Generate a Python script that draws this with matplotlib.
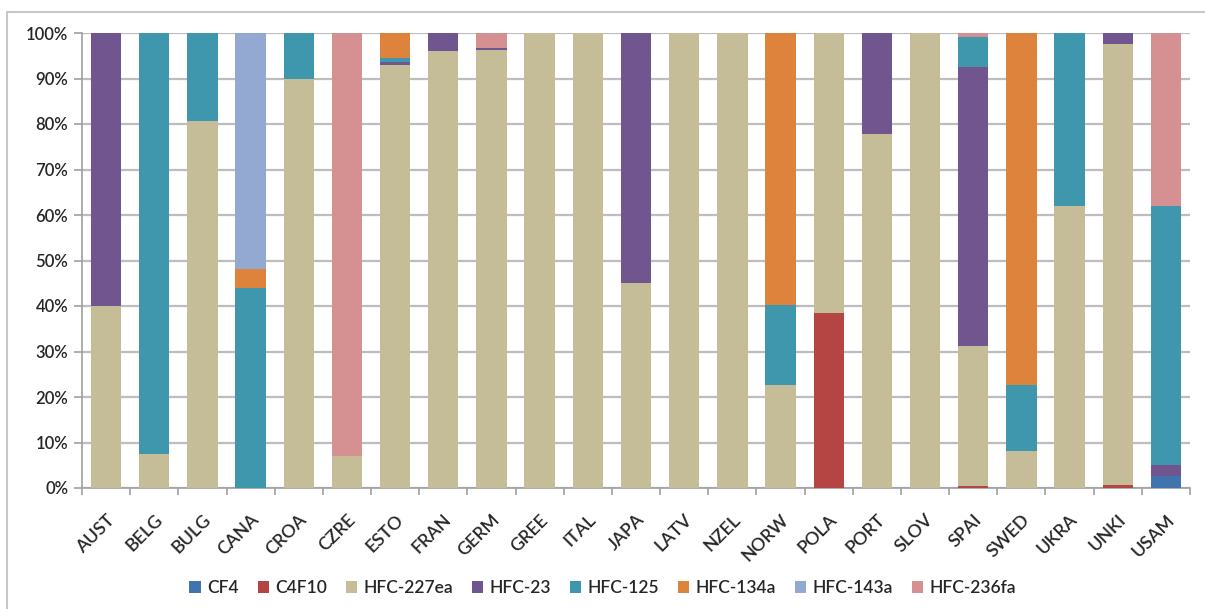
import matplotlib
matplotlib.use("Agg")
import matplotlib.pyplot as plt
from matplotlib.patches import Rectangle
from matplotlib.ticker import PercentFormatter, FixedLocator
import numpy as np

countries = ["AUST", "BELG", "BULG", "CANA", "CROA", "CZRE", "ESTO", "FRAN",
             "GERM", "GREE", "ITAL", "JAPA", "LATV", "NZEL", "NORW", "POLA",
             "PORT", "SLOV", "SPAI", "SWED", "UKRA", "UNKI", "USAM"]

gases = ["CF4", "C4F10", "HFC-227ea", "HFC-23", "HFC-125", "HFC-134a",
         "HFC-143a", "HFC-236fa"]

# share of each gas per country, in percent
cf4 = [0, 0, 0, 0, 0, 0, 0, 0, 0, 0, 0, 0, 0, 0, 0, 0, 0, 0, 0, 0, 0, 0, 2.6]
c4f10 = [0, 0, 0, 0, 0, 0, 0, 0, 0, 0, 0, 0, 0, 0, 0, 38.5, 0, 0, 0.4, 0, 0, 0.6, 0]
hfc227ea = [40.0, 7.5, 80.7, 0, 89.9, 7.0, 93.0, 96.0, 96.3, 100, 100, 45.0,
            100, 100, 22.6, 61.5, 77.8, 100, 30.8, 8.1, 62.0, 96.9, 0]
hfc23 = [60.0, 0, 0, 0, 0, 0, 0.6, 4.0, 0.4, 0, 0, 55.0, 0, 0, 0, 0, 22.2,
         0, 61.3, 0, 0, 2.5, 2.4]
hfc125 = [0, 92.5, 19.3, 44.0, 10.1, 0, 0.8, 0, 0, 0, 0, 0, 0, 0, 17.6, 0, 0,
          0, 6.6, 14.5, 38.0, 0, 57.0]
hfc134a = [0, 0, 0, 4.1, 0, 0, 5.6, 0, 0, 0, 0, 0, 0, 0, 59.8, 0, 0, 0, 0,
           77.4, 0, 0, 0]
hfc143a = [0, 0, 0, 51.9, 0, 0, 0, 0, 0, 0, 0, 0, 0, 0, 0, 0, 0, 0, 0, 0, 0, 0, 0]
hfc236fa = [0, 0, 0, 0, 0, 93.0, 0, 0, 3.3, 0, 0, 0, 0, 0, 0, 0, 0, 0, 0.9,
            0, 0, 0, 38.0]

series = [cf4, c4f10, hfc227ea, hfc23, hfc125, hfc134a, hfc143a, hfc236fa]
colors = ["#3F74AE", "#B54543", "#C4BD97", "#70558F", "#3F97AE", "#DE833B",
          "#93A9D2", "#D59192"]

plt.rcParams["font.family"] = ["Lato", "DejaVu Sans"]
plt.rcParams["font.weight"] = "semibold"

fig = plt.figure(figsize=(12.05, 6.09), dpi=100)
ax = fig.add_axes([82 / 1205, 1 - 488 / 609, (1190 - 82) / 1205, (488 - 33) / 609])

# light frame around the chart area
fig.patches.append(Rectangle((7 / 1205, -0.05), 1.1, 1 - 12 / 609 + 0.05,
                             transform=fig.transFigure, fill=False,
                             edgecolor="#C8C8C8", linewidth=1.5))

x = np.arange(len(countries))
bottom = np.zeros(len(countries))
for name, vals, col in zip(gases, series, colors):
    v = np.array(vals, dtype=float)
    ax.bar(x, v, bottom=bottom, width=0.63, color=col, label=name,
           edgecolor="none", zorder=3)
    bottom += v

ax.set_xlim(-0.5, len(countries) - 0.5)
ax.set_ylim(0, 100)
ax.yaxis.set_major_locator(FixedLocator(np.arange(0, 101, 10)))
ax.yaxis.set_major_formatter(PercentFormatter(decimals=0))
ax.grid(axis="y", color="#BDBDBD", linewidth=1.6, zorder=0)
ax.set_axisbelow(True)

ax.set_xticks(x)
ax.set_xticklabels(countries, rotation=45, ha="right", rotation_mode="anchor",
                   fontsize=13, color="#262626")
ax.tick_params(axis="x", length=0, pad=17)
ax.xaxis.set_minor_locator(FixedLocator(np.arange(-0.5, len(countries), 1.0)))
ax.tick_params(axis="x", which="minor", length=5, color="#A0A0A0", width=1.2)
ax.tick_params(axis="y", length=6, color="#A0A0A0", width=1.2,
               labelsize=12, labelcolor="#262626", pad=4)

for side in ["top", "right"]:
    ax.spines[side].set_visible(False)
for side in ["left", "bottom"]:
    ax.spines[side].set_color("#A0A0A0")
    ax.spines[side].set_linewidth(1.2)

leg = fig.legend(loc="center", bbox_to_anchor=(0.5, 1 - 588 / 609), ncol=8,
                 frameon=False, fontsize=12.5, handlelength=0.65, handleheight=0.65,
                 handletextpad=0.35, columnspacing=1.1)
for t in leg.get_texts():
    t.set_color("#262626")

fig.savefig("out.png", dpi=100)
